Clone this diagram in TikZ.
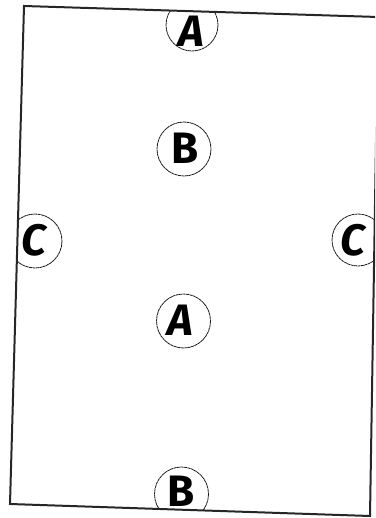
\documentclass[tikz,border=0pt]{standalone}
\usepackage{fontspec}
\setmainfont{Fira Sans}
\begin{document}
\begin{tikzpicture}[x=1pt,y=-1pt,
  lbl/.style={inner sep=0pt,font=\fontsize{44}{44}\selectfont\bfseries\itshape},
  lblup/.style={inner sep=0pt,font=\fontsize{44}{44}\selectfont\bfseries},
  ring/.style={draw=black!90,line width=0.8pt,dash pattern=on 3pt off 0.5pt},
  frame/.style={draw=black!85,line width=2pt,line join=miter}]
\useasboundingbox (0,0) rectangle (375,518);
\clip (0,0) rectangle (375,518);
\coordinate (tl) at (24,6);
\coordinate (tr) at (378,17);
\coordinate (br) at (370,516);
\coordinate (bl) at (10,504);
\begin{scope}
  \clip (tl) -- (tr) -- (br) -- (bl) -- cycle;
  \draw[ring] (192,25) circle (26);
  \draw[ring] (184,149) circle (27);
  \draw[ring] (35,241) circle (27);
  \draw[ring] (358,240) circle (26);
  \draw[ring] (183.5,321) circle (27);
  \draw[ring] (181.5,494) circle (27);
\end{scope}
\node[lbl]   (a1) at (191,31) {A};
\node[lblup] (b1) at (185,148) {B};
\node[lbl]   (c1) at (34,240) {C};
\node[lbl]   (c2) at (353,240) {C};
\node[lbl]   (a2) at (180,320) {A};
\node[lblup] (b2) at (181,491) {B};
\draw[frame] (tl) -- (tr) -- (br) -- (bl) -- cycle;
\end{tikzpicture}
\end{document}
